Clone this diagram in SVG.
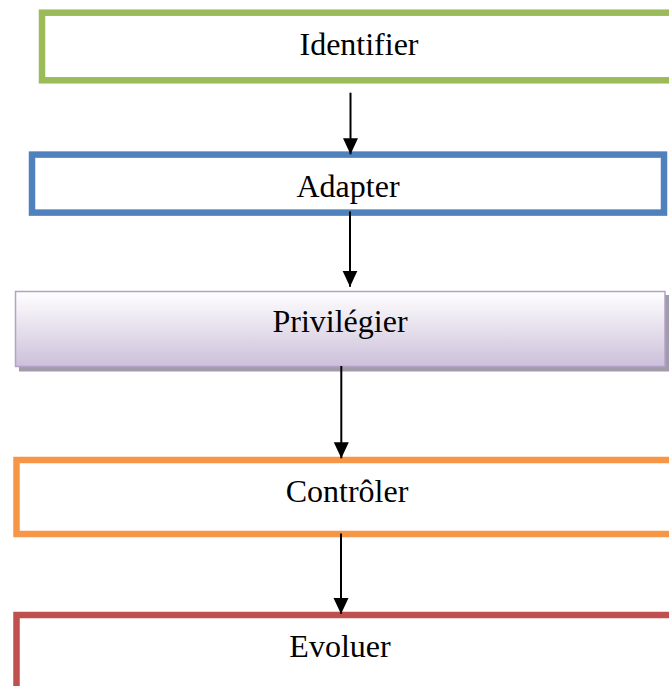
<svg xmlns="http://www.w3.org/2000/svg" width="669" height="686" viewBox="0 0 669 686">
  <style>
    .box { fill: #ffffff; stroke-width: 6.5; }
    .label { font-family: "Liberation Serif", "Times New Roman", serif; font-size: 32px; fill: #000000; text-anchor: middle; }
    .conn { stroke: #000000; stroke-width: 2; fill: none; marker-end: url(#arrow); }
  </style>
  <defs>
    <marker id="arrow" markerUnits="userSpaceOnUse" markerWidth="16" markerHeight="18" refX="16" refY="7.5" orient="auto">
      <path d="M0,0 L16,7.5 L0,15 Z" fill="#000000"/>
    </marker>
    <linearGradient id="lilac" x1="0" y1="0" x2="0" y2="1">
      <stop offset="0" stop-color="#ffffff"/>
      <stop offset="1" stop-color="#ccc0da"/>
    </linearGradient>
  </defs>

  <g id="identifier">
    <rect class="box" x="42" y="12.7" width="640" height="67.6" stroke="#9bbb59"/>
    <text class="label" x="359" y="55">Identifier</text>
  </g>

  <g id="adapter">
    <rect class="box" x="32" y="154.6" width="632" height="58" stroke="#4f81bd"/>
    <text class="label" x="348" y="196.7">Adapter</text>
  </g>

  <g id="privilegier">
    <rect x="19" y="295" width="650" height="76.5" fill="#a29bab"/>
    <rect x="15.5" y="291.5" width="649.5" height="75" fill="url(#lilac)" stroke="#b3a2c7" stroke-width="1.5"/>
    <text class="label" x="340" y="331.7">Privilégier</text>
  </g>

  <g id="controler">
    <rect class="box" x="16.5" y="460" width="670" height="74" stroke="#f79646"/>
    <text class="label" x="347" y="501.7">Contrôler</text>
  </g>

  <g id="evoluer">
    <rect class="box" x="16.5" y="615" width="670" height="100" stroke="#c0504d"/>
    <text class="label" x="340" y="656.7">Evoluer</text>
  </g>

  <g id="connectors">
    <line class="conn" x1="350.5" y1="92.7" x2="350.5" y2="154.3"/>
    <line class="conn" x1="350" y1="211.5" x2="350" y2="286.7"/>
    <line class="conn" x1="341.3" y1="366" x2="341.3" y2="458.3"/>
    <line class="conn" x1="341" y1="533.5" x2="341" y2="614"/>
  </g>
</svg>
